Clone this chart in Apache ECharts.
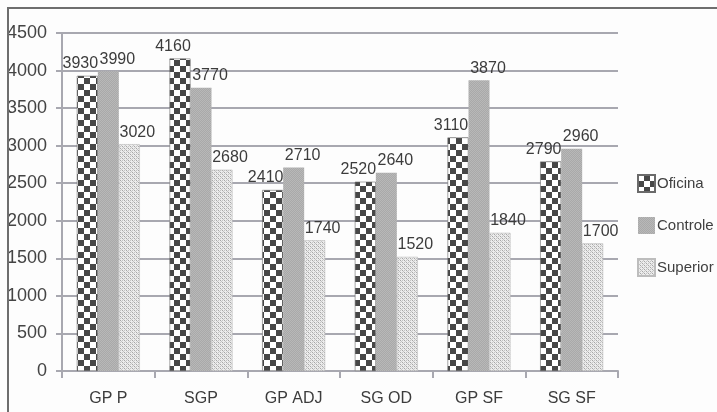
<!DOCTYPE html>
<html>
<head>
<meta charset="utf-8">
<script src="https://cdn.jsdelivr.net/npm/echarts@6/dist/echarts.min.js"></script>
<style>
  html, body { margin: 0; padding: 0; background: #fdfdfd; }
  #chart { width: 717px; height: 412px; }
  #frame { position: absolute; left: 7px; top: 7px; width: 800px; height: 500px;
           border-left: 2px solid #6e6e6e; border-top: 2px solid #6e6e6e; pointer-events: none; }
</style>
</head>
<body>
<div id="chart"></div>
<div id="frame"></div>
<script>
// Categories and series values
const categories = ['GP P', 'SGP', 'GP ADJ', 'SG OD', 'GP SF', 'SG SF'];
const oficina   = [3930, 4160, 2410, 2520, 3110, 2790];
const controle  = [3990, 3770, 2710, 2640, 3870, 2960];
const superior  = [3020, 2680, 1740, 1520, 1840, 1700];
const yTicks = { min: 0, max: 4500, interval: 500 };

const FONT = '"Liberation Sans", Arial, sans-serif';

// Fill textures for the three series
function checkerTile() {
  const c = document.createElement('canvas');
  const s = 6;
  c.width = c.height = s * 2;
  const g = c.getContext('2d');
  g.fillStyle = '#ffffff'; g.fillRect(0, 0, s * 2, s * 2);
  g.fillStyle = '#474747';
  g.fillRect(s, 0, s, s);
  g.fillRect(0, s, s, s);
  return c;
}
function greyTile() {
  const c = document.createElement('canvas');
  c.width = c.height = 2;
  const g = c.getContext('2d');
  g.fillStyle = '#a9a9a9'; g.fillRect(0, 0, 2, 2);
  g.fillStyle = '#b8b8b8'; g.fillRect(0, 0, 1, 1); g.fillRect(1, 1, 1, 1);
  return c;
}
function dotTile() {
  const c = document.createElement('canvas');
  c.width = c.height = 4;
  const g = c.getContext('2d');
  g.fillStyle = '#ececec'; g.fillRect(0, 0, 4, 4);
  g.fillStyle = '#a6a6a6';
  g.fillRect(0, 0, 1, 1); g.fillRect(2, 2, 1, 1);
  g.fillStyle = '#c4c4c4';
  g.fillRect(1, 1, 1, 1); g.fillRect(3, 3, 1, 1); g.fillRect(2, 0, 1, 1); g.fillRect(0, 2, 1, 1);
  return c;
}

const labelStyle = (dx) => ({
  show: true,
  position: 'top',
  distance: 4,
  offset: [dx, 0],
  fontFamily: FONT,
  fontSize: 16,
  color: '#3c3c3c'
});

const chart = echarts.init(document.getElementById('chart'), null, { renderer: 'canvas' });
chart.setOption({
  backgroundColor: 'transparent',
  animation: false,
  grid: { left: 62, right: 99, top: 33, bottom: 41, containLabel: false },
  legend: {
    orient: 'vertical',
    left: 632,
    top: 169,
    icon: 'rect',
    itemWidth: 17,
    itemHeight: 17,
    itemGap: 24,
    textStyle: { fontFamily: FONT, fontSize: 15, color: '#404040', padding: [0, 0, 0, -3] },
    data: ['Oficina', 'Controle', 'Superior']
  },
  xAxis: {
    type: 'category',
    data: categories,
    axisLine: { lineStyle: { color: '#a8a8b0', width: 2 } },
    axisTick: { show: true, length: 7, lineStyle: { color: '#a8a8b0', width: 2 } },
    axisLabel: { fontFamily: FONT, fontSize: 16, color: '#3c3c3c', margin: 20 }
  },
  yAxis: {
    type: 'value',
    min: yTicks.min,
    max: yTicks.max,
    interval: yTicks.interval,
    axisLine: { show: true, lineStyle: { color: '#a8a8b0', width: 2 } },
    axisTick: { show: true, length: 6, lineStyle: { color: '#a8a8b0', width: 2 } },
    splitLine: { show: true, lineStyle: { color: '#a8a8b0', width: 2 } },
    axisLabel: { fontFamily: FONT, fontSize: 18, color: '#444444', margin: 15,
                 formatter: (v) => String(v) }
  },
  series: [
    {
      name: 'Oficina', type: 'bar', data: oficina,
      barWidth: 21, barGap: '0%',
      itemStyle: { color: { image: checkerTile(), repeat: 'repeat' }, borderColor: '#6a6a6a', borderWidth: 0.6 },
      label: labelStyle(-7)
    },
    {
      name: 'Controle', type: 'bar', data: controle,
      barWidth: 21, barGap: '0%',
      itemStyle: { color: { image: greyTile(), repeat: 'repeat' } },
      label: labelStyle(9)
    },
    {
      name: 'Superior', type: 'bar', data: superior,
      barWidth: 21, barGap: '0%',
      itemStyle: { color: { image: dotTile(), repeat: 'repeat' }, borderColor: '#bdbdbd', borderWidth: 0.6 },
      label: labelStyle(8)
    }
  ]
});
</script>
</body>
</html>
